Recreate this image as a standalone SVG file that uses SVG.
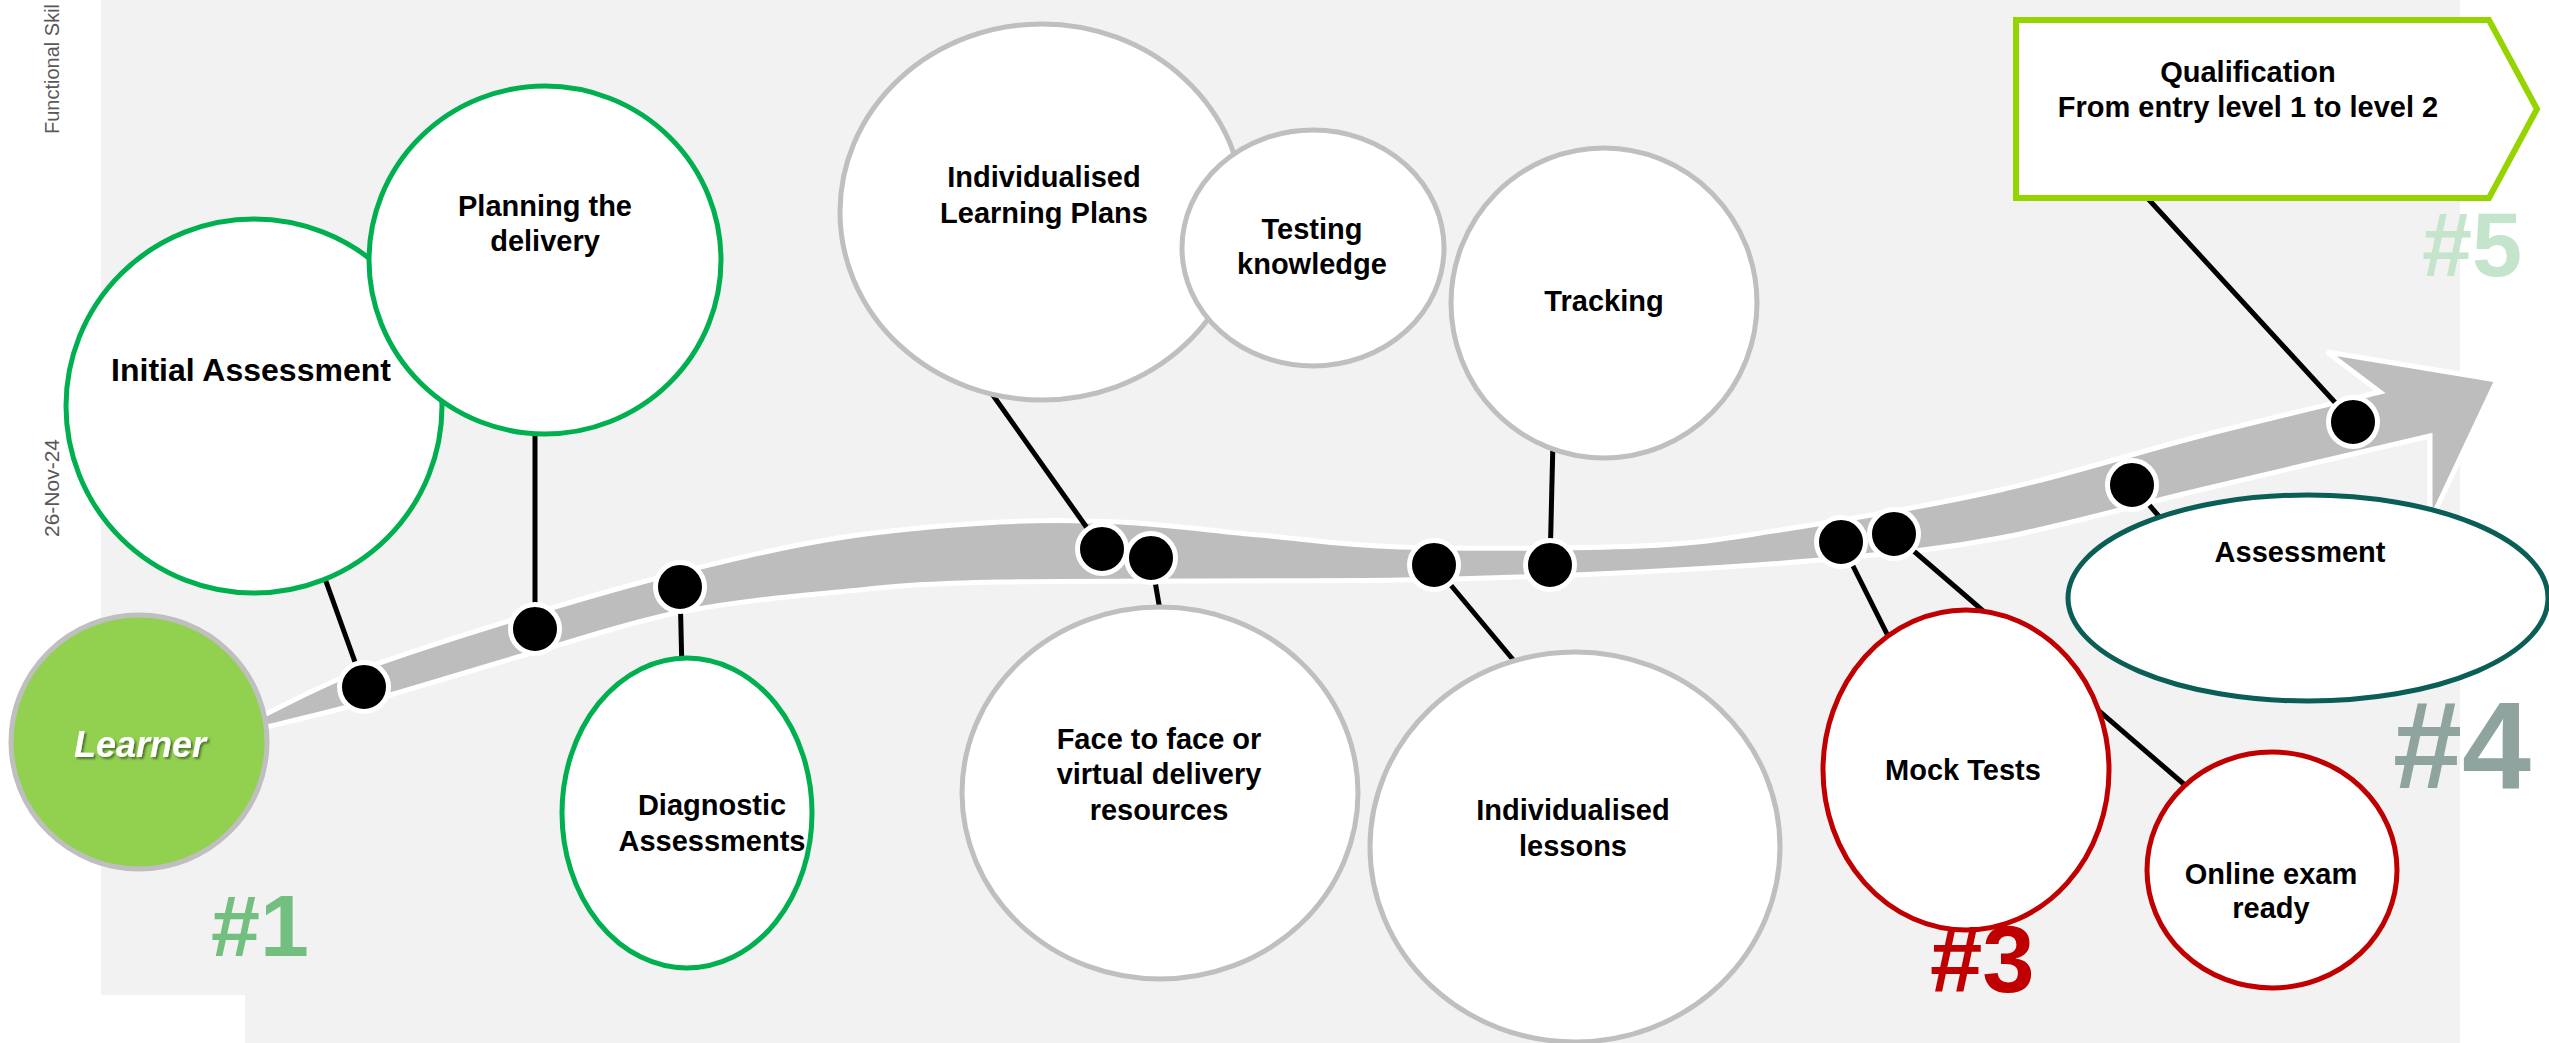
<svg xmlns="http://www.w3.org/2000/svg" width="2549" height="1043" viewBox="0 0 2549 1043">
<defs>
<style>
.bg{fill:#f2f2f2}
.nd{fill:#fff;stroke:#bfbfbf;stroke-width:5}
.green{stroke:#00b050}
.red{stroke:#c00000}
.teal{stroke:#0a5e55}
.lbl{font-family:"Liberation Sans",Arial,sans-serif;font-weight:bold;font-size:29px;text-anchor:middle;fill:#000}
.conn{stroke:#000;stroke-width:5;fill:none}
.dot{fill:#000;stroke:#fff;stroke-width:5}
.num{font-family:"Liberation Sans",Arial,sans-serif;font-weight:bold}
.side{font-family:"Liberation Sans",Arial,sans-serif;font-size:21px;fill:#595959}
</style>
<filter id="sh" x="-20%" y="-20%" width="140%" height="160%">
<feDropShadow dx="2" dy="2" stdDeviation="1.2" flood-color="#000" flood-opacity="0.45"/>
</filter>
</defs>
<rect x="0" y="0" width="2549" height="1043" fill="#fff"/>
<path class="bg" d="M101,0 H2460 V1043 H245 V995 H101 Z"/>
<text class="side" transform="translate(59,134) rotate(-90)" style="font-size:20px">Functional Skil</text>
<text class="side" transform="translate(59,537) rotate(-90)">26-Nov-24</text>

<g id="ribbon">
<path fill="#bdbdbd" stroke="#fff" stroke-width="5" stroke-linejoin="miter" d="M262,716 C279,708 320.5,685 366,668 C411.5,651 482.5,629 535,613 C587.5,597 630.5,584.5 681,572 C731.5,559.5 785,546.3 838,538 C891,529.7 953,524.7 1000,522 C1047,519.3 1076.7,519.8 1120,522 C1163.3,524.2 1213.3,530.8 1260,535 C1306.7,539.2 1336.7,545.2 1400,547 C1463.3,548.8 1576.7,548.8 1640,546 C1703.3,543.2 1720,539.3 1780,530 C1840,520.7 1930,505.7 2000,490 C2070,474.3 2136.7,452.3 2200,436 C2263.3,419.7 2350,399.3 2380,392 L2327,352 L2497,380 L2430,522 L2430,436 C2391.7,445 2271.7,473 2200,490 C2128.3,507 2059.7,526.7 2000,538 C1940.3,549.3 1902,552.3 1842,558 C1782,563.7 1713.7,568.3 1640,572 C1566.3,575.7 1506.7,578.3 1400,580 C1293.3,581.7 1093.7,580 1000,582 C906.3,584 891.2,587 838,592 C784.8,597 731.5,602 681,612 C630.5,622 587.5,637 535,652 C482.5,667 411.5,689.3 366,702 C320.5,714.7 279.3,723.7 262,728 Z"/>
</g>

<g id="connectors">
<line class="conn" x1="319" y1="562" x2="364" y2="687"/>
<line class="conn" x1="535" y1="420" x2="535" y2="629"/>
<line class="conn" x1="680" y1="587" x2="682" y2="672"/>
<line class="conn" x1="985" y1="384" x2="1102" y2="549"/>
<line class="conn" x1="1151" y1="558" x2="1162" y2="622"/>
<line class="conn" x1="1434" y1="565" x2="1520" y2="668"/>
<line class="conn" x1="1553" y1="440" x2="1550" y2="565"/>
<line class="conn" x1="1841" y1="542" x2="1895" y2="650"/>
<line class="conn" x1="1894" y1="534" x2="2200" y2="798"/>
<line class="conn" x1="2132" y1="485" x2="2175" y2="535"/>
<line class="conn" x1="2140" y1="190" x2="2353" y2="422"/>
<circle class="dot" cx="364" cy="687" r="24.5"/>
<circle class="dot" cx="535" cy="629" r="24.5"/>
<circle class="dot" cx="680" cy="587" r="24.5"/>
<circle class="dot" cx="1102" cy="549" r="24.5"/>
<circle class="dot" cx="1151" cy="558" r="24.5"/>
<circle class="dot" cx="1434" cy="565" r="24.5"/>
<circle class="dot" cx="1550" cy="565" r="24.5"/>
<circle class="dot" cx="1841" cy="542" r="24.5"/>
<circle class="dot" cx="1894" cy="534" r="24.5"/>
<circle class="dot" cx="2132" cy="485" r="24.5"/>
<circle class="dot" cx="2353" cy="422" r="24.5"/>
</g>

<g id="learner">
<ellipse cx="139" cy="742" rx="128" ry="127" fill="#92d050" stroke="#bfbfbf" stroke-width="5"/>
<text x="140" y="757" filter="url(#sh)" style="font-family:'Liberation Sans',Arial,sans-serif;font-weight:bold;font-style:italic;font-size:36px;fill:#fff;text-anchor:middle">Learner</text>
</g>
<g id="initial-assessment">
<ellipse class="nd green" cx="254" cy="406" rx="188" ry="187"/>
<text class="lbl" x="251" y="381" style="font-size:32px">Initial Assessment</text>
</g>
<g id="planning">
<ellipse class="nd green" cx="545" cy="260" rx="176" ry="174"/>
<text class="lbl" x="545" y="216">Planning the</text>
<text class="lbl" x="545" y="251">delivery</text>
</g>
<g id="diagnostic">
<ellipse class="nd green" cx="687" cy="813" rx="125" ry="155"/>
<text class="lbl" x="712" y="815">Diagnostic</text>
<text class="lbl" x="712" y="851">Assessments</text>
</g>
<g id="ilp">
<ellipse class="nd" cx="1042" cy="212" rx="202" ry="188"/>
<text class="lbl" x="1044" y="187">Individualised</text>
<text class="lbl" x="1044" y="223">Learning Plans</text>
</g>
<g id="testing">
<ellipse class="nd" cx="1313" cy="248" rx="131" ry="118"/>
<text class="lbl" x="1312" y="239">Testing</text>
<text class="lbl" x="1312" y="274">knowledge</text>
</g>
<g id="tracking">
<ellipse class="nd" cx="1604" cy="303" rx="153" ry="155"/>
<text class="lbl" x="1604" y="311">Tracking</text>
</g>
<g id="face-to-face">
<ellipse class="nd" cx="1160" cy="793" rx="198" ry="186"/>
<text class="lbl" x="1159" y="749">Face to face or</text>
<text class="lbl" x="1159" y="784">virtual delivery</text>
<text class="lbl" x="1159" y="820">resources</text>
</g>
<g id="lessons">
<ellipse class="nd" cx="1575" cy="847" rx="205" ry="195"/>
<text class="lbl" x="1573" y="820">Individualised</text>
<text class="lbl" x="1573" y="856">lessons</text>
</g>
<g id="mock-tests">
<ellipse class="nd red" cx="1966" cy="770" rx="143" ry="160"/>
<text class="lbl" x="1963" y="780">Mock Tests</text>
</g>
<g id="online-exam">
<ellipse class="nd red" cx="2272" cy="870" rx="125" ry="118"/>
<text class="lbl" x="2271" y="884">Online exam</text>
<text class="lbl" x="2271" y="918">ready</text>
</g>
<g id="assessment">
<ellipse class="nd teal" cx="2308" cy="598" rx="240" ry="103"/>
<text class="lbl" x="2300" y="562">Assessment</text>
</g>
<g id="qualification">
<path d="M2016,20 H2489 L2537,109 L2489,198 H2016 Z" fill="#fff" stroke="#96d400" stroke-width="6"/>
<text class="lbl" x="2248" y="82">Qualification</text>
<text class="lbl" x="2248" y="117">From entry level 1 to level 2</text>
</g>

<g id="stage-labels">
<text class="num" x="211" y="956" style="font-size:88px;fill:#73bf80">#1</text>
<text class="num" x="1930" y="992" style="font-size:94px;fill:#c00000">#3</text>
<text class="num" x="2393" y="788" style="font-size:124px;fill:#8fa39f">#4</text>
<text class="num" x="2422" y="276" style="font-size:90px;fill:#c4e4cc">#5</text>
</g>
</svg>
